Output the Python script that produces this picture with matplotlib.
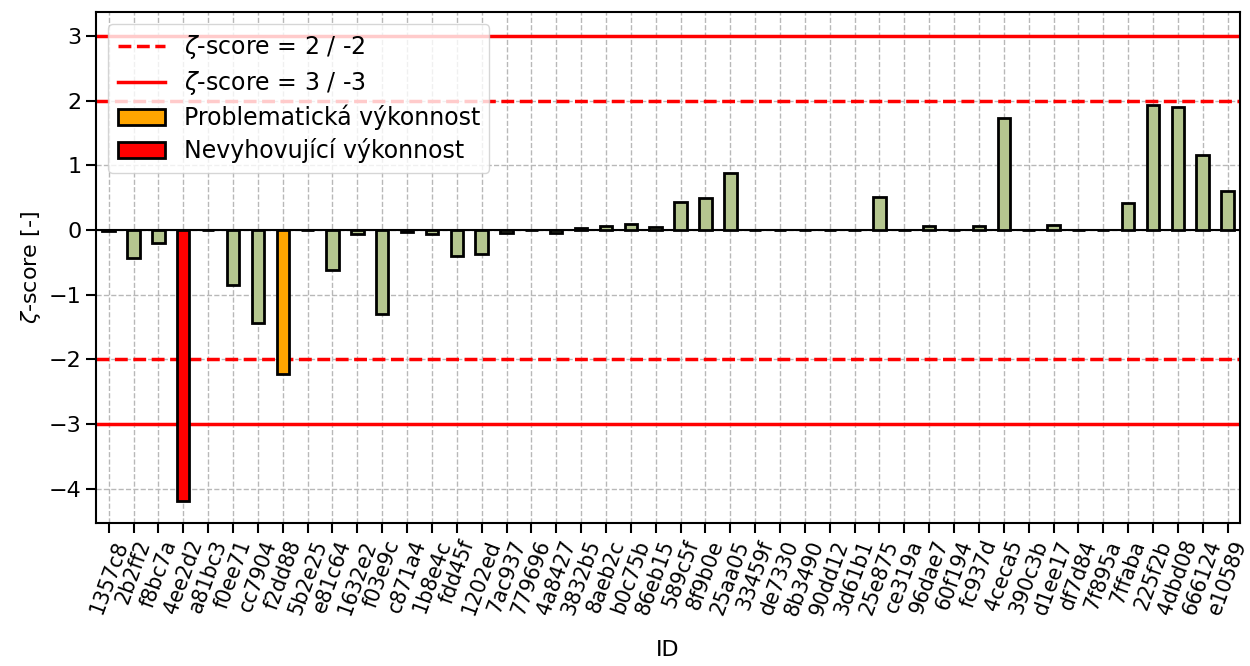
import numpy as np
import matplotlib
matplotlib.use("Agg")
import matplotlib.pyplot as plt
from matplotlib.patches import Patch
from matplotlib.lines import Line2D

# lab IDs and their zeta-scores
ids = ["1357c8", "2b2ff2", "f8bc7a", "4ee2d2", "a81bc3", "f0ee71", "cc7904", "f2dd88",
       "5b2e25", "e81c64", "1632e2", "f03e9c", "c871a4", "1b8e4c", "fdd45f", "1202ed",
       "7ac937", "779696", "4a8427", "3832b5", "8aeb2c", "b0c75b", "86eb15", "589c5f",
       "8f9b0e", "25aa05", "33459f", "de7330", "8b3490", "90dd12", "3d61b1", "25e875",
       "ce319a", "96dae7", "60f194", "fc937d", "4ceca5", "390c3b", "d1ee17", "df7d84",
       "7f895a", "7ffaba", "225f2b", "4dbd08", "666124", "e10589"]
zeta = [-0.01, -0.44, -0.20, -4.20, 0.00, -0.85, -1.44, -2.23,
        0.00, -0.62, -0.06, -1.30, -0.04, -0.06, -0.40, -0.37,
        -0.05, 0.00, -0.05, 0.03, 0.06, 0.09, 0.05, 0.43,
        0.49, 0.88, 0.00, 0.00, 0.00, 0.00, 0.00, 0.51,
        0.00, 0.06, 0.00, 0.06, 1.73, 0.00, 0.07, 0.00,
        0.00, 0.42, 1.93, 1.90, 1.16, 0.60]

green = "#b5c68f"


def bar_color(z):
    a = abs(z)
    if a >= 3:
        return "red"
    if a >= 2:
        return "orange"
    return green


fig, ax = plt.subplots(figsize=(12.5, 6.66), dpi=100)
plt.subplots_adjust(left=0.077, right=0.992, top=0.982, bottom=0.215)

x = np.arange(len(ids))
colors = [bar_color(z) for z in zeta]
ax.bar(x, zeta, width=0.5, color=colors, edgecolor="black", linewidth=2, zorder=3)

ax.axhline(0, color="black", linewidth=1.5, zorder=2)
for lvl in (2, -2):
    ax.axhline(lvl, color="red", linestyle="--", linewidth=2.5, zorder=2)
for lvl in (3, -3):
    ax.axhline(lvl, color="red", linestyle="-", linewidth=2.5, zorder=2)

ax.grid(True, linestyle="--", color="#b8b8b8", linewidth=1, zorder=0)
ax.set_axisbelow(True)

ax.set_xticks(x)
ax.set_xticklabels(ids, rotation=70, ha="center", fontsize=14.8)
ax.tick_params(axis="y", labelsize=16)
ax.tick_params(axis="both", length=7, width=1.5)
ax.set_xlim(-0.5, len(ids) - 0.5)
ax.set_ylim(-4.53, 3.37)
ax.set_yticks([-4, -3, -2, -1, 0, 1, 2, 3])

ax.set_xlabel("ID", fontsize=16, labelpad=16)
ax.set_ylabel(r"$\zeta$-score [-]", fontsize=16)
for sp in ax.spines.values():
    sp.set_linewidth(1.5)

handles = [
    Line2D([0], [0], color="red", linestyle="--", linewidth=2.5, label=r"$\zeta$-score = 2 / -2"),
    Line2D([0], [0], color="red", linestyle="-", linewidth=2.5, label=r"$\zeta$-score = 3 / -3"),
    Patch(facecolor="orange", edgecolor="black", linewidth=2, label="Problematická výkonnost"),
    Patch(facecolor="red", edgecolor="black", linewidth=2, label="Nevyhovující výkonnost"),
]
ax.legend(handles=handles, loc="upper left", fontsize=17, labelspacing=0.33)

fig.savefig("out.png", dpi=100)
